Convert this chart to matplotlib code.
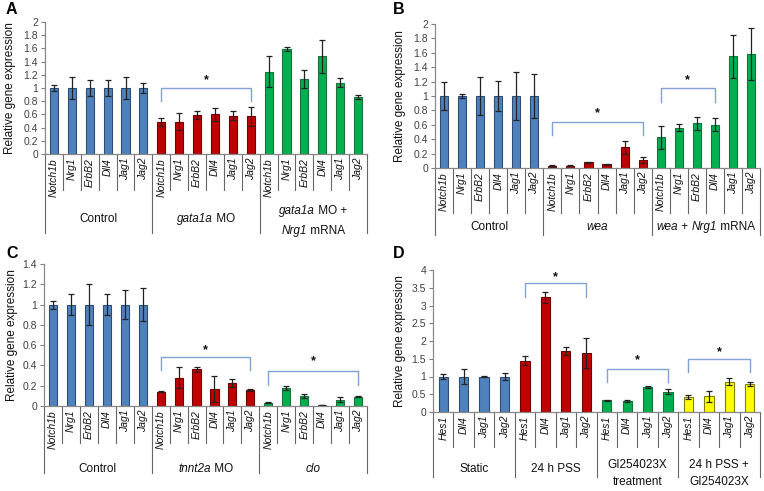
import matplotlib
matplotlib.use("Agg")
import matplotlib.pyplot as plt
from matplotlib.transforms import blended_transform_factory
import numpy as np

plt.rcParams['font.family'] = ['Liberation Sans', 'DejaVu Sans']

# ---------------- data ----------------
genesA = ["Notch1b", "Nrg1", "ErbB2", "Dll4", "Jag1", "Jag2"]
# group labels: lines of (text, italic) segments
groupsA = [[[("Control", False)]],
           [[("gata1a", True), (" MO", False)]],
           [[("gata1a", True), (" MO +", False)], [("Nrg1", True), (" mRNA", False)]]]
valsA = [[1.0, 1.0, 1.0, 1.0, 1.0, 1.0],
         [0.48, 0.49, 0.59, 0.60, 0.58, 0.57],
         [1.25, 1.59, 1.14, 1.48, 1.08, 0.87]]
errsA = [[0.04, 0.16, 0.12, 0.12, 0.16, 0.07],
         [0.06, 0.13, 0.06, 0.10, 0.07, 0.14],
         [0.23, 0.03, 0.14, 0.25, 0.07, 0.03]]

genesB = ["Notch1b", "Nrg1", "ErbB2", "Dll4", "Jag1", "Jag2"]
groupsB = [[[("Control", False)]],
           [[("wea", True)]],
           [[("wea", True), (" + ", False), ("Nrg1", True), (" mRNA", False)]]]
valsB = [[1.0, 1.0, 1.0, 1.0, 1.0, 1.0],
         [0.03, 0.03, 0.08, 0.05, 0.29, 0.11],
         [0.43, 0.56, 0.62, 0.60, 1.55, 1.58]]
errsB = [[0.19, 0.03, 0.26, 0.21, 0.33, 0.30],
         [0.01, 0.005, 0.005, 0.01, 0.09, 0.04],
         [0.16, 0.05, 0.09, 0.09, 0.30, 0.36]]

genesC = ["Notch1b", "Nrg1", "ErbB2", "Dll4", "Jag1", "Jag2"]
groupsC = [[[("Control", False)]],
           [[("tnnt2a", True), (" MO", False)]],
           [[("clo", True)]]]
valsC = [[1.0, 1.0, 1.0, 1.0, 1.0, 1.0],
         [0.14, 0.28, 0.36, 0.17, 0.23, 0.16],
         [0.03, 0.18, 0.10, 0.01, 0.06, 0.09]]
errsC = [[0.04, 0.10, 0.20, 0.10, 0.14, 0.16],
         [0.005, 0.10, 0.02, 0.13, 0.04, 0.01],
         [0.005, 0.02, 0.02, 0.003, 0.025, 0.005]]

genesD = ["Hes1", "Dll4", "Jag1", "Jag2"]
groupsD = [[[("Static", False)]],
           [[("24 h PSS", False)]],
           [[("GI254023X", False)], [("treatment", False)]],
           [[("24 h PSS +", False)], [("GI254023X", False)]]]
valsD = [[1.0, 1.0, 1.0, 1.0],
         [1.45, 3.23, 1.72, 1.66],
         [0.33, 0.31, 0.70, 0.57],
         [0.43, 0.44, 0.85, 0.78]]
errsD = [[0.08, 0.20, 0.01, 0.10],
         [0.12, 0.15, 0.12, 0.42],
         [0.02, 0.03, 0.03, 0.07],
         [0.05, 0.15, 0.10, 0.06]]

# brackets: (group, first gene index, last gene index, top y, drop y, star y)
bracketsA = [(1, 0, 5, 1.0, 0.8, 1.12)]
bracketsB = [(1, 0, 5, 0.64, 0.46, 0.76), (2, 0, 3, 1.11, 0.92, 1.22)]
bracketsC = [(1, 0, 5, 0.48, 0.355, 0.55), (2, 0, 5, 0.35, 0.21, 0.44)]
bracketsD = [(1, 0, 3, 3.62, 3.25, 3.81), (2, 0, 3, 1.22, 0.85, 1.46), (3, 0, 3, 1.50, 1.13, 1.69)]

colors = ["#4F81BD", "#C00000", "#00B050", "#FFFF00"]
edges = ["#2C4D75", "#6E0000", "#17733A", "#7F7F00"]

W, H = 764, 491
fig = plt.figure(figsize=(W / 100, H / 100), dpi=100)
renderer = fig.canvas.get_renderer()


def rich_text(xpix, ycen_top, lines, fontsize, line_h):
    """xpix: centre x in display px; ycen_top: centre y (px from top) of block."""
    nl = len(lines)
    for li, line in enumerate(lines):
        yc = ycen_top - (nl - 1) / 2 * line_h + li * line_h
        ybase = H - (yc + 0.36 * fontsize * 100 / 72)
        texts = []
        widths = []
        for s, it in line:
            t = fig.text(0, 0, s, fontsize=fontsize, style="italic" if it else "normal",
                         ha="left", va="baseline", color="#111111")
            texts.append(t)
            widths.append(t.get_window_extent(renderer).width)
        x0 = xpix - sum(widths) / 2
        for t, w in zip(texts, widths):
            t.set_position((x0 / W, ybase / H))
            x0 += w


def panel(letter, left, right, top, bottom, ymax, ystep, genes, groups, vals, errs,
          brackets, small_len, long_len, label_off, multi_off, line_h, ylab_x, letter_xy):
    ax = fig.add_axes([left / W, 1 - bottom / H, (right - left) / W, (bottom - top) / H])
    hpx = bottom - top
    ng = len(genes)
    n = ng * len(groups)
    x = np.arange(n)
    heights = [v for g in vals for v in g]
    yerr = [e for g in errs for e in g]
    cols = [colors[i] for i, g in enumerate(vals) for _ in g]
    ecs = [edges[i] for i, g in enumerate(vals) for _ in g]
    ax.bar(x, heights, width=0.45, color=cols, edgecolor=ecs, linewidth=0.8,
           yerr=yerr, error_kw=dict(ecolor="#222222", elinewidth=0.9, capsize=2.5, capthick=0.9),
           zorder=2)
    ax.set_xlim(-0.5, n - 0.5)
    ax.set_ylim(0, ymax)
    ticks = np.arange(0, ymax + 1e-9, ystep)
    ax.set_yticks(ticks)
    ax.set_yticklabels([("%g" % t) for t in ticks], fontsize=7.5, color="#404040")
    ax.tick_params(axis="y", length=3, width=0.8, color="#808080", pad=2, direction="out")
    ax.set_xticks([])
    for s in ["top", "right"]:
        ax.spines[s].set_visible(False)
    for s in ["left", "bottom"]:
        ax.spines[s].set_color("#888888")
        ax.spines[s].set_linewidth(0.9)
    fig.text(ylab_x / W, 1 - (top + bottom) / 2 / H, "Relative gene expression",
             rotation=90, ha="center", va="center", fontsize=8.5, color="#111111")

    tr = blended_transform_factory(ax.transData, ax.transAxes)
    # dividers
    for k in range(n + 1):
        xb = k - 0.5
        ln = long_len if k % ng == 0 else small_len
        ax.plot([xb, xb], [0, -ln / hpx], transform=tr, color="#666666", lw=0.8,
                clip_on=False)
    # gene labels
    for k in range(n):
        ax.text(k, -4 / hpx, genes[k % ng], transform=tr, rotation=90, ha="center",
                va="top", fontsize=7.5, style="italic", color="#111111")
    # group labels
    for gi, lines in enumerate(groups):
        xc = gi * ng + (ng - 1) / 2
        xpix = ax.transData.transform((xc, 0))[0]
        off = label_off if len(lines) == 1 else multi_off
        rich_text(xpix, bottom + off, lines, 8.5, line_h)
    # brackets
    for (g, a, b, ytop, ydrop, ystar) in brackets:
        xa = g * ng + a
        xb2 = g * ng + b
        ax.plot([xa, xa, xb2, xb2], [ydrop, ytop, ytop, ydrop], color="#7FA3D2", lw=1.0,
                zorder=3)
        ax.text((xa + xb2) / 2, ystar, "*", ha="center", va="center", fontsize=9,
                fontweight="bold", color="#111111")
    fig.text(letter_xy[0] / W, 1 - letter_xy[1] / H, letter, fontsize=11.5, fontweight="bold",
             ha="center", va="center")
    return ax


panel("A", 45, 367, 22, 154, 2.0, 0.2, genesA, groupsA, valsA, errsA, bracketsA,
      36, 79, 64, 66, 20, 10, (11, 10))
panel("B", 435, 760, 24, 168, 2.0, 0.2, genesB, groupsB, valsB, errsB, bracketsB,
      45, 67, 58, 58, 17, 400, (399, 10))
panel("C", 44, 367, 264, 406, 1.4, 0.2, genesC, groupsC, valsC, errsC, bracketsC,
      37, 67, 62, 62, 17, 12, (12, 253))
panel("D", 433, 760, 270, 412, 4.0, 0.5, genesD, groupsD, valsD, errsD, bracketsD,
      35, 65, 56, 60, 17, 400, (399, 253))

fig.savefig("out.png", dpi=100)
